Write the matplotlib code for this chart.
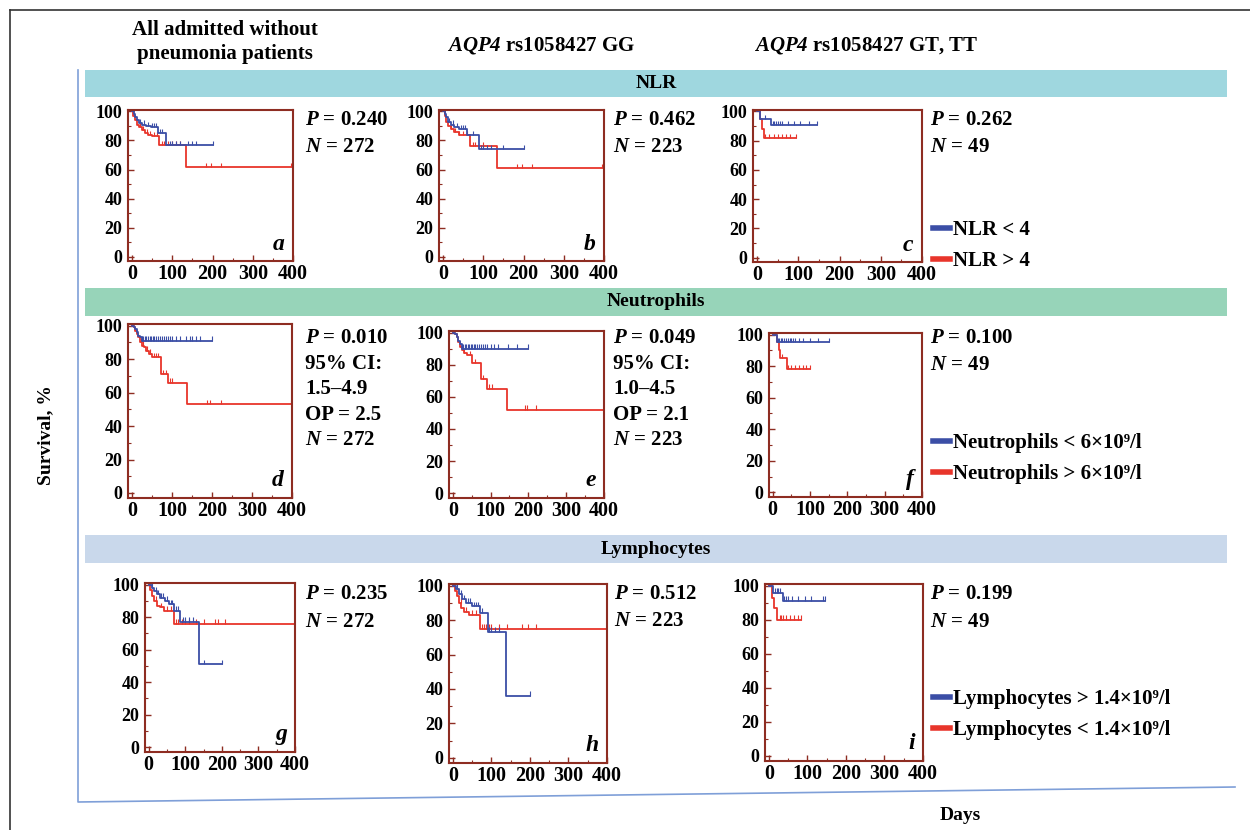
import matplotlib
matplotlib.use("Agg")
import matplotlib.pyplot as plt
import numpy as np
from matplotlib.lines import Line2D

plt.rcParams['font.family'] = ['Liberation Serif', 'DejaVu Serif']
plt.rcParams['font.weight'] = 'bold'
plt.rcParams['mathtext.fontset'] = 'custom'
plt.rcParams['mathtext.bfit'] = 'Liberation Serif:italic:bold'
plt.rcParams['mathtext.rm'] = 'Liberation Serif:bold'

# ---------------- data ----------------
COLUMN_TITLES = ["All admitted without\npneumonia patients",
                 r"$\mathbfit{AQP4}$ rs1058427 GG",
                 r"$\mathbfit{AQP4}$ rs1058427 GT, TT"]
ROW_TITLES = ["NLR", "Neutrophils", "Lymphocytes"]
PANEL_LETTERS = ["a", "b", "c", "d", "e", "f", "g", "h", "i"]
LEGEND_LABELS = [["NLR < 4", "NLR > 4"],
                 ["Neutrophils < 6×10⁹/l", "Neutrophils > 6×10⁹/l"],
                 ["Lymphocytes > 1.4×10⁹/l", "Lymphocytes < 1.4×10⁹/l"]]
STATS = [["$\\mathbfit{P}$ = 0.240", "$\\mathbfit{N}$ = 272"],
         ["$\\mathbfit{P}$ = 0.462", "$\\mathbfit{N}$ = 223"],
         ["$\\mathbfit{P}$ = 0.262", "$\\mathbfit{N}$ = 49"],
         ["$\\mathbfit{P}$ = 0.010", "95% CI:", "1.5–4.9", "OP = 2.5", "$\\mathbfit{N}$ = 272"],
         ["$\\mathbfit{P}$ = 0.049", "95% CI:", "1.0–4.5", "OP = 2.1", "$\\mathbfit{N}$ = 223"],
         ["$\\mathbfit{P}$ = 0.100", "$\\mathbfit{N}$ = 49"],
         ["$\\mathbfit{P}$ = 0.235", "$\\mathbfit{N}$ = 272"],
         ["$\\mathbfit{P}$ = 0.512", "$\\mathbfit{N}$ = 223"],
         ["$\\mathbfit{P}$ = 0.199", "$\\mathbfit{N}$ = 49"]]
X_TICKS = [0, 100, 200, 300, 400]
Y_TICKS = [0, 20, 40, 60, 80, 100]

# Kaplan-Meier steps: times, survival (%), censor times
A_BLUE_T = [0, 4, 8, 12, 18, 25, 35, 48, 65, 85, 200]
A_BLUE_S = [100, 98, 96, 94, 92, 91, 90, 89, 85, 77, 77]
A_BLUE_C = [20, 30, 40, 50, 55, 60, 70, 75, 95, 100, 110, 120, 140, 150, 160, 200]
A_RED_T = [0, 3, 7, 12, 18, 25, 32, 40, 50, 68, 135, 395]
A_RED_S = [100, 97, 94, 91, 89, 87, 85, 84, 83, 77, 62, 62]
A_RED_C = [20, 28, 36, 45, 55, 62, 75, 80, 90, 100, 110, 120, 185, 195, 220, 395]

B_BLUE_T = [0, 4, 8, 13, 20, 28, 40, 60, 90, 200]
B_BLUE_S = [100, 98, 96, 93, 91, 89, 88, 84, 74, 74]
B_BLUE_C = [15, 25, 35, 45, 50, 55, 75, 95, 100, 110, 120, 150, 200]
B_RED_T = [0, 4, 8, 13, 20, 28, 40, 68, 135, 395]
B_RED_S = [100, 97, 93, 90, 88, 86, 84, 76, 61, 61]
B_RED_C = [20, 30, 40, 50, 60, 75, 80, 100, 185, 195, 220, 395]

C_BLUE_T = [0, 8, 33, 145]
C_BLUE_S = [100, 95, 91, 91]
C_BLUE_C = [20, 38, 42, 46, 50, 55, 60, 75, 90, 105, 125, 145]
C_RED_T = [0, 6, 12, 17, 95]
C_RED_S = [100, 95, 88, 82, 82]
C_RED_C = [20, 30, 40, 50, 60, 70, 80, 95]

D_BLUE_T = [0, 4, 8, 12, 16, 20, 25, 200]
D_BLUE_S = [100, 99, 98, 96, 94, 93, 91, 91]
D_BLUE_C = [25, 28, 32, 36, 40, 44, 48, 52, 56, 60, 65, 70, 75, 80, 85, 90, 95,
            100, 110, 120, 135, 145, 150, 160, 170, 200]
D_RED_T = [0, 4, 8, 12, 16, 20, 25, 30, 35, 42, 50, 72, 90, 137, 398]
D_RED_S = [100, 99, 97, 95, 93, 90, 88, 87, 85, 83, 81, 71, 66, 53, 53]
D_RED_C = [22, 28, 38, 45, 55, 60, 65, 78, 85, 95, 100, 188, 195, 222, 398]

E_BLUE_T = [0, 5, 10, 15, 20, 25, 200]
E_BLUE_S = [100, 99, 97, 95, 93, 90, 90]
E_BLUE_C = [25, 28, 32, 36, 40, 44, 48, 52, 56, 60, 65, 70, 75, 80, 85, 90,
            100, 110, 120, 145, 170, 200]
E_RED_T = [0, 5, 10, 15, 20, 25, 30, 38, 52, 74, 91, 143, 400]
E_RED_S = [100, 99, 97, 94, 91, 89, 87, 86, 81, 71, 65, 52, 52]
E_RED_C = [30, 45, 60, 80, 95, 105, 190, 195, 220, 400]

F_BLUE_T = [0, 12, 150]
F_BLUE_S = [100, 95, 95]
F_BLUE_C = [15, 18, 22, 25, 30, 35, 40, 45, 50, 55, 60, 70, 80, 100, 120, 150]
F_RED_T = [0, 12, 16, 20, 38, 100]
F_RED_S = [100, 95, 90, 85, 78, 78]
F_RED_C = [25, 42, 50, 60, 70, 80, 90, 100]

G_BLUE_T = [0, 8, 15, 22, 30, 45, 55, 70, 86, 138, 200]
G_BLUE_S = [100, 98, 96, 94, 92, 90, 88, 84, 77, 51, 51]
G_BLUE_C = [10, 20, 25, 35, 40, 50, 60, 65, 75, 80, 95, 100, 110, 120, 150, 200]
G_RED_T = [0, 5, 10, 15, 22, 30, 42, 70, 400]
G_RED_S = [100, 97, 93, 90, 87, 86, 84, 76, 76]
G_RED_C = [20, 35, 50, 60, 75, 80, 90, 100, 110, 130, 150, 180, 190, 210, 400]

H_BLUE_T = [0, 8, 15, 25, 35, 50, 70, 90, 139, 200]
H_BLUE_S = [100, 98, 95, 92, 90, 88, 84, 73, 36, 36]
H_BLUE_C = [12, 20, 30, 40, 45, 55, 60, 65, 75, 95, 100, 110, 120, 200]
H_RED_T = [0, 5, 10, 15, 22, 30, 42, 70, 400]
H_RED_S = [100, 97, 94, 90, 87, 85, 83, 75, 75]
H_RED_C = [20, 35, 50, 60, 75, 80, 85, 95, 100, 120, 140, 180, 195, 215, 400]

I_BLUE_T = [0, 10, 37, 145]
I_BLUE_S = [100, 96, 91, 91]
I_BLUE_C = [15, 20, 25, 30, 40, 45, 50, 60, 75, 95, 110, 140, 145]
I_RED_T = [0, 7, 14, 22, 84]
I_RED_S = [100, 93, 87, 80, 80]
I_RED_C = [28, 32, 38, 45, 55, 65, 75, 84]

PANELS = [
    (A_BLUE_T, A_BLUE_S, A_BLUE_C, A_RED_T, A_RED_S, A_RED_C),
    (B_BLUE_T, B_BLUE_S, B_BLUE_C, B_RED_T, B_RED_S, B_RED_C),
    (C_BLUE_T, C_BLUE_S, C_BLUE_C, C_RED_T, C_RED_S, C_RED_C),
    (D_BLUE_T, D_BLUE_S, D_BLUE_C, D_RED_T, D_RED_S, D_RED_C),
    (E_BLUE_T, E_BLUE_S, E_BLUE_C, E_RED_T, E_RED_S, E_RED_C),
    (F_BLUE_T, F_BLUE_S, F_BLUE_C, F_RED_T, F_RED_S, F_RED_C),
    (G_BLUE_T, G_BLUE_S, G_BLUE_C, G_RED_T, G_RED_S, G_RED_C),
    (H_BLUE_T, H_BLUE_S, H_BLUE_C, H_RED_T, H_RED_S, H_RED_C),
    (I_BLUE_T, I_BLUE_S, I_BLUE_C, I_RED_T, I_RED_S, I_RED_C),
]

# ---------------- layout (pixels) ----------------
W, H = 1250, 830
BLUE = "#3b4ea6"
RED = "#e8352b"
SPINE = "#8e2d22"

# panel boxes: left, top, right, bottom
BOXES = [(128, 110, 293, 261), (439, 110, 604, 261), (753, 110, 922, 262),
         (128, 324, 292, 498), (449, 331, 604, 498), (769, 333, 922, 497),
         (145, 583, 295, 752), (449, 584, 607, 763), (765, 584, 923, 761)]
STATS_POS = [(305, 120, 27), (613, 120, 27), (930, 120, 27),
             (305, 338, 25.5), (613, 338, 25.5), (930, 338, 27),
             (305, 594, 28), (614, 594, 27), (930, 594, 28)]
LEG_Y = [232, 445, 701]
BANDS = [(70, 97, "#9fd7df"), (288, 316, "#97d4b9"), (535, 563, "#c9d8eb")]

fig = plt.figure(figsize=(W / 100, H / 100), dpi=100)
fig.patch.set_facecolor("white")


def fx(x):
    return x / W


def fy(y):
    return 1 - y / H


# outer frame and blue L-axis
fig.add_artist(Line2D([fx(10), fx(10)], [fy(10), fy(830)], color="#333333", lw=1.2))
fig.add_artist(Line2D([fx(10), fx(1250)], [fy(10), fy(10)], color="#333333", lw=1.2))
fig.add_artist(Line2D([fx(78), fx(78), fx(1235)], [fy(70), fy(802), fy(787)],
                      color="#7f9fd8", lw=1.2))

# bands
for (t, b, c), label in zip(BANDS, ROW_TITLES):
    fig.add_artist(plt.Rectangle((fx(85), fy(b)), fx(1227) - fx(85), fy(t) - fy(b),
                                 transform=fig.transFigure, color=c, lw=0, zorder=0))
    fig.text(fx(656), fy((t + b) / 2), label, ha="center", va="center",
             fontsize=14, fontweight="bold")

# column titles
fig.text(fx(225), fy(42), COLUMN_TITLES[0], ha="center", va="center",
         fontsize=15, fontweight="bold", linespacing=1.3)
fig.text(fx(541), fy(45), COLUMN_TITLES[1], ha="center", va="center",
         fontsize=15, fontweight="bold")
fig.text(fx(866), fy(45), COLUMN_TITLES[2], ha="center", va="center",
         fontsize=15, fontweight="bold")

fig.text(fx(46), fy(435), "Survival, %", rotation=90, ha="center", va="center",
         fontsize=14, fontweight="bold")
fig.text(fx(960), fy(815), "Days", ha="center", va="center",
         fontsize=14, fontweight="bold")


def step_value(T, S, t):
    idx = np.searchsorted(np.asarray(T), t, side="right") - 1
    return np.asarray(S)[np.clip(idx, 0, len(S) - 1)]


for k, (box, data) in enumerate(zip(BOXES, PANELS)):
    l, t, r, b = box
    ax = fig.add_axes([fx(l), fy(b), fx(r) - fx(l), fy(t) - fy(b)])
    ax.set_xlim(-10, 400)
    ax.set_ylim(-3, 101)
    bt, bs, bc, rt, rs, rc = data
    for T, S, C, col in ((rt, rs, rc, RED), (bt, bs, bc, BLUE)):
        ax.step(T, S, where="post", color=col, lw=1.3)
        lv = step_value(T, S, C)
        ax.vlines(C, lv, lv + 2.8, color=col, lw=0.8)
    for sp in ax.spines.values():
        sp.set_color(SPINE)
        sp.set_linewidth(1.5)
    ax.set_xticks(X_TICKS)
    ax.set_yticks(Y_TICKS)
    ax.set_xticks([50, 150, 250, 350], minor=True)
    ax.set_yticks([10, 30, 50, 70, 90], minor=True)
    ax.tick_params(axis="both", which="both", direction="in", color=SPINE)
    ax.tick_params(axis="both", which="major", length=4, width=1)
    ax.tick_params(axis="both", which="minor", length=2.5, width=0.8)
    ax.tick_params(axis="x", labelsize=14.5, pad=2)
    ax.tick_params(axis="y", labelsize=13, pad=4)
    for lab in ax.get_xticklabels() + ax.get_yticklabels():
        lab.set_fontweight("bold")
    ax.text(0.95, 0.04, PANEL_LETTERS[k], transform=ax.transAxes, ha="right",
            va="bottom", fontsize=17, fontstyle="italic", fontweight="bold")
    sx, sy, dy = STATS_POS[k]
    for j, s in enumerate(STATS[k]):
        fig.text(fx(sx), fy(sy + j * dy), s, ha="left", va="center",
                 fontsize=15, fontweight="bold")

# legends
for row in range(3):
    handles = [Line2D([], [], color=BLUE, lw=4), Line2D([], [], color=RED, lw=4)]
    fig.legend(handles, LEGEND_LABELS[row], loc="upper left",
               bbox_to_anchor=(fx(933), fy(LEG_Y[row] - 12)), frameon=False,
               handlelength=0.8, handletextpad=0.15, labelspacing=0.55,
               borderpad=0, borderaxespad=0,
               prop={"family": ["Liberation Serif", "DejaVu Serif"],
                     "weight": "bold", "size": 15})

fig.savefig("out.png", dpi=100, facecolor="white")
